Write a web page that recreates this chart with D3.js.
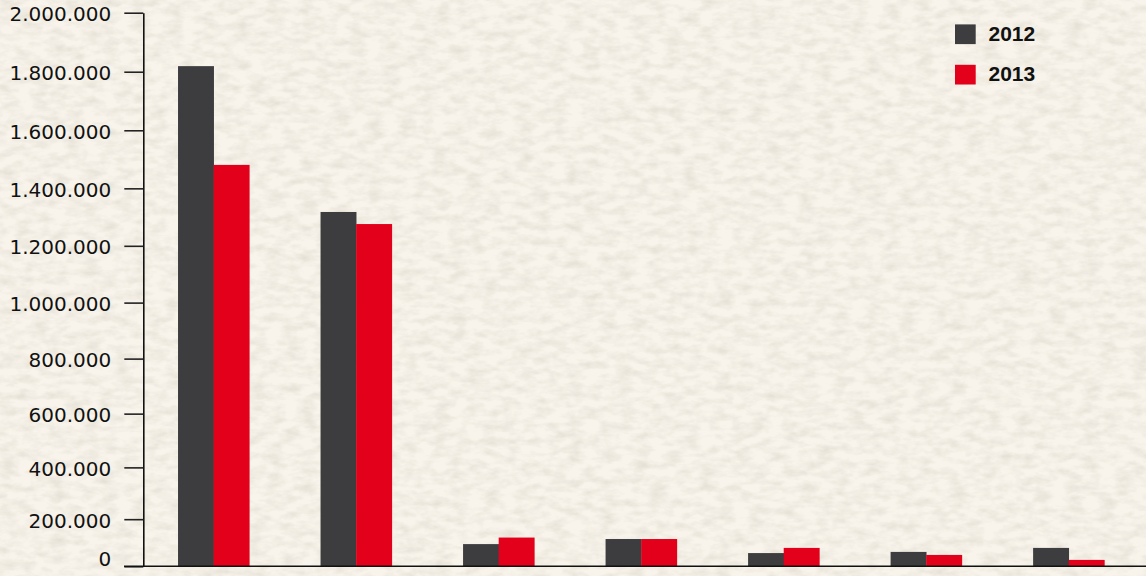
<!DOCTYPE html>
<html>
<head>
<style>
    body { margin: 0; }
    .tick text { font-family: "DejaVu Sans", sans-serif; font-size: 20px; fill: #111; }
    .legend text { font-family: "Liberation Sans", sans-serif; font-weight: bold; font-size: 21px; fill: #111; }
</style>
</head>
<body>
    <svg id="container" width="1146" height="576"></svg>
</body>
<script src="https://d3js.org/d3.v7.min.js"></script>
<script>
    // data (no category labels are shown)
    let groups = ["1", "2", "3", "4", "5", "6", "7"];
    let years = ["2012", "2013"];
    let values2012 = [1819000, 1318000, 99000, 120000, 61000, 66000, 83000];
    let values2013 = [1481000, 1276000, 126000, 120000, 83000, 53000, 31000];
    let tickValues = [0, 200000, 400000, 600000, 800000, 1000000, 1200000, 1400000, 1600000, 1800000, 2000000];

    let colors = ["#3d3d3f", "#e2001a"];

    let svg = d3.select("#container");

    // paper-like background
    let defs = svg.append("defs");
    let filter = defs.append("filter").attr("id", "paper")
        .attr("x", 0).attr("y", 0).attr("width", "100%").attr("height", "100%");
    filter.append("feTurbulence")
        .attr("type", "fractalNoise")
        .attr("baseFrequency", "0.06 0.13")
        .attr("numOctaves", 3)
        .attr("seed", 4);
    filter.append("feColorMatrix")
        .attr("values", "0 0 0 0 0.55  0 0 0 0 0.52  0 0 0 0 0.45  0 0 0 -1.8 1.15");
    svg.append("rect").attr("width", 1146).attr("height", 576).attr("fill", "#f8f4eb");
    svg.append("rect").attr("width", 1146).attr("height", 576).attr("filter", "url(#paper)").attr("opacity", 0.35);

    let locale = d3.formatLocale({decimal: ",", thousands: ".", grouping: [3], currency: ["", "€"]});
    let fmt = locale.format(",d");

    // the original axis is slightly non-linear
    let yScale = d3.scalePow().exponent(1.07)
        .domain([0, 2000000])
        .range([566.3, 12.7]);

    let x0 = d3.scaleBand()
        .domain(groups)
        .range([142.4, 1140])
        .paddingInner(0.5)
        .paddingOuter(0.25);
    let x1 = d3.scaleBand()
        .domain(years)
        .range([0, x0.bandwidth()]);

    let data = groups.map((g, i) => ({group: g, vals: [values2012[i], values2013[i]]}));

    let g = svg.selectAll(".grp")
        .data(data)
        .enter()
        .append("g")
        .attr("class", "grp")
        .attr("transform", (d) => "translate(" + x0(d.group) + ",0)");
    g.selectAll("rect")
        .data((d) => d.vals.map((v, j) => ({year: years[j], value: v, color: colors[j]})))
        .enter()
        .append("rect")
        .attr("x", (d) => x1(d.year))
        .attr("width", x1.bandwidth() + 0.3)
        .attr("y", (d) => yScale(d.value))
        .attr("height", (d) => yScale(0) - yScale(d.value))
        .attr("fill", (d) => d.color);

    // y axis
    let axis = svg.append("g")
        .attr("transform", "translate(143.3,0)")
        .call(d3.axisLeft(yScale)
            .tickValues(tickValues)
            .tickFormat(fmt)
            .tickSizeInner(19)
            .tickSizeOuter(0)
            .tickPadding(13));
    axis.select(".domain").attr("stroke", "#111").attr("stroke-width", 1.6);
    axis.selectAll(".tick line").attr("stroke", "#222").attr("stroke-width", 1.6);
    axis.selectAll(".tick text").attr("dy", (d) => d === 0 ? "-0.05em" : "0.4em");

    // baseline across the whole width
    svg.append("line")
        .attr("x1", 124).attr("x2", 1146)
        .attr("y1", yScale(0)).attr("y2", yScale(0))
        .attr("stroke", "#111").attr("stroke-width", 1.6);

    // legend
    let legend = svg.append("g").attr("class", "legend");
    let legY = d3.scalePoint().domain(years).range([34.4, 74.8]);
    let item = legend.selectAll("g")
        .data(years)
        .enter()
        .append("g")
        .attr("transform", (d) => "translate(955," + legY(d) + ")");
    item.append("rect")
        .attr("x", 0).attr("y", -10)
        .attr("width", 20.7).attr("height", 19.7)
        .attr("fill", (d, i) => colors[i]);
    item.append("text")
        .attr("x", 33.5).attr("y", 0)
        .attr("dy", "0.3em")
        .text((d) => d);
</script>
</html>
